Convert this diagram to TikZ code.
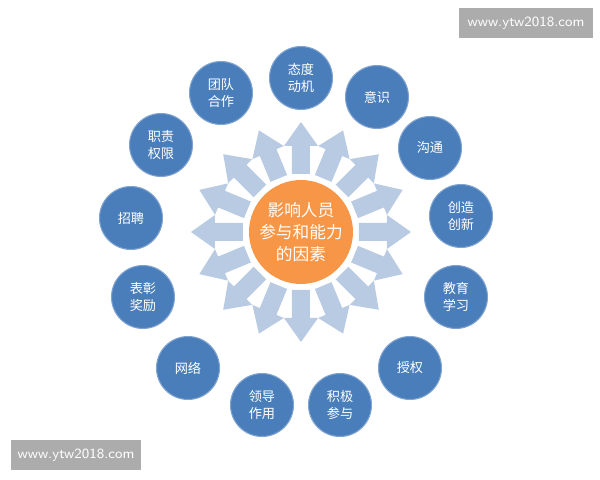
\documentclass[tikz,border=0pt]{standalone}
\usepackage{fontspec}
\setmainfont{Noto Sans CJK SC}
\usetikzlibrary{positioning}
\definecolor{ballblue}{HTML}{4A7EBB}
\definecolor{ballrim}{HTML}{7FA3D0}
\definecolor{arrowblue}{HTML}{B9CBE3}
\definecolor{coreorange}{HTML}{F79646}
\tikzset{
  ball/.style = {circle, minimum size=1.26cm, inner sep=0pt, fill=ballblue, draw=ballrim,
  line width=0.6pt, text=white, align=center, font=\fontsize{7.5}{9.5}\selectfont},
  core/.style = {circle, minimum size=2.08cm, inner sep=0pt, fill=coreorange, text=white,
  align=center, font=\fontsize{9.5}{12.5}\selectfont},
  wmark/.style = {fill=gray!65, text=white, inner sep=3pt, font=\sffamily\fontsize{8}{9}\selectfont}
}
\begin{document}
\begin{tikzpicture}[x=0.02cm, y=-0.02cm]
    \useasboundingbox (0,0) rectangle (600,480);
    \fill[white] (0,0) rectangle (600,480);

    % arrows around the core
    \foreach \a in {0,22.5,...,337.5} {
        \fill[arrowblue, shift={(301,232)}, rotate=\a]
            (58,-9) -- (86,-9) -- (86,-17) -- (110,0) -- (86,17) -- (86,9) -- (58,9) -- cycle;
    }

    \node (core) [core] at (301,232) {影响人员\\参与和能力\\的因素};

    \node (motive) [ball] at (301,78) {态度\\动机};
    \node (aware) [ball] at (377,97) {意识};
    \node (comm) [ball] at (430,148) {沟通};
    \node (innov) [ball] at (461,216) {创造\\创新};
    \node (learn) [ball] at (456,297) {教育\\学习};
    \node (auth) [ball] at (410,368) {授权};
    \node (join) [ball] at (340,405) {积极\\参与};
    \node (lead) [ball] at (262,405) {领导\\作用};
    \node (net) [ball] at (188,368) {网络};
    \node (praise) [ball] at (143,297) {表彰\\奖励};
    \node (hire) [ball] at (131,218) {招聘};
    \node (duty) [ball] at (161,145) {职责\\权限};
    \node (team) [ball] at (221,93) {团队\\合作};

    \node (mark1) [wmark, minimum width=2.7cm, minimum height=0.62cm] at (526,23) {www.ytw2018.com};
    \node (mark2) [wmark, minimum width=2.6cm, minimum height=0.62cm] at (76,455) {www.ytw2018.com};
\end{tikzpicture}
\end{document}
